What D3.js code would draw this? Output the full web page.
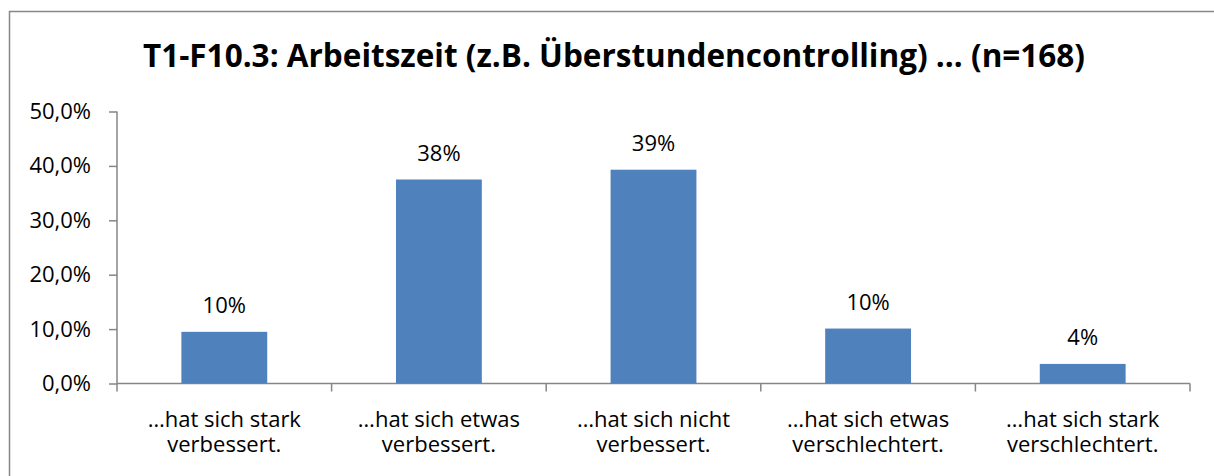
<!DOCTYPE html>
<html>
<head>
<meta charset="utf-8">
<script src="https://cdn.jsdelivr.net/npm/d3@7"></script>
<style>
  body { margin: 0; background: #fff; }
  svg { display: block; font-family: "Open Sans", "Noto Sans", sans-serif; }
</style>
</head>
<body>
<svg id="chart" width="1214" height="476"></svg>
<script>
// data
var title = "T1-F10.3: Arbeitszeit (z.B. Überstundencontrolling) … (n=168)";
var categories = [
  ["…hat sich stark", "verbessert."],
  ["…hat sich etwas", "verbessert."],
  ["…hat sich nicht", "verbessert."],
  ["…hat sich etwas", "verschlechtert."],
  ["…hat sich stark", "verschlechtert."]
];
var values = [9.5, 37.5, 39.3, 10.1, 3.6];
var valueLabels = ["10%", "38%", "39%", "10%", "4%"];
var yTicks = [0, 10, 20, 30, 40, 50];

var svg = d3.select("#chart");
var axisColor = "#868686";
var fs = 22;

// outer frame
svg.append("rect")
  .attr("x", 9.5).attr("y", 11.5)
  .attr("width", 1240).attr("height", 500)
  .attr("fill", "none")
  .attr("stroke", "#878787")
  .attr("stroke-width", 1.5);

svg.append("text")
  .attr("x", 614).attr("y", 67)
  .attr("text-anchor", "middle")
  .attr("font-weight", "bold")
  .attr("font-size", 31.5)
  .attr("fill", "#000")
  .text(title);

var plotLeft = 117, plotRight = 1190, plotTop = 111.5, plotBottom = 383.5;

var x = d3.scaleBand()
  .domain(d3.range(values.length))
  .range([plotLeft, plotRight])
  .paddingInner(0.6)
  .paddingOuter(0.3);

var y = d3.scaleLinear().domain([0, 50]).range([plotBottom, plotTop]);

// y axis
var yAxis = d3.axisLeft(y)
  .tickValues(yTicks)
  .tickSize(8)
  .tickPadding(18)
  .tickFormat(function(d) { return d.toFixed(1).replace(".", ",") + "%"; });

var gy = svg.append("g")
  .attr("transform", "translate(" + plotLeft + ",0)")
  .call(yAxis);
gy.select(".domain").attr("stroke", axisColor).attr("stroke-width", 1.5)
  .attr("d", "M0," + plotTop + "V" + plotBottom);
gy.selectAll(".tick line").attr("stroke", axisColor).attr("stroke-width", 1.5);
gy.selectAll(".tick text")
  .attr("font-size", fs)
  .attr("font-family", "'Open Sans', sans-serif")
  .attr("fill", "#000");

// x axis, ticks sit between the categories
var bounds = d3.range(values.length + 1).map(function(i) { return plotLeft + i * (plotRight - plotLeft) / values.length; });
var gx = svg.append("g");
gx.append("line")
  .attr("x1", plotLeft).attr("x2", plotRight)
  .attr("y1", plotBottom).attr("y2", plotBottom)
  .attr("stroke", axisColor).attr("stroke-width", 1.5);
gx.selectAll("line.tk")
  .data(bounds)
  .enter().append("line")
  .attr("class", "tk")
  .attr("x1", function(d) { return d; }).attr("x2", function(d) { return d; })
  .attr("y1", plotBottom).attr("y2", plotBottom + 8)
  .attr("stroke", axisColor).attr("stroke-width", 1.5);

categories.forEach(function(lines, i) {
  var cx = x(i) + x.bandwidth() / 2;
  lines.forEach(function(line, j) {
    gx.append("text")
      .attr("text-anchor", "middle")
      .attr("font-size", fs)
      .attr("fill", "#000")
      .attr("x", cx)
      .attr("y", 427 + j * 24.5)
      .text(line);
  });
});

// bars
svg.selectAll("rect.bar")
  .data(values)
  .enter().append("rect")
  .attr("class", "bar")
  .attr("x", function(d, i) { return x(i); })
  .attr("width", x.bandwidth())
  .attr("y", function(d) { return y(d); })
  .attr("height", function(d) { return plotBottom - y(d); })
  .attr("fill", "#4F81BD");

svg.selectAll("text.val")
  .data(values)
  .enter().append("text")
  .attr("class", "val")
  .attr("text-anchor", "middle")
  .attr("x", function(d, i) { return x(i) + x.bandwidth() / 2; })
  .attr("y", function(d) { return y(d) - 19; })
  .attr("font-size", fs)
  .attr("fill", "#000")
  .text(function(d, i) { return valueLabels[i]; });
</script>
</body>
</html>
